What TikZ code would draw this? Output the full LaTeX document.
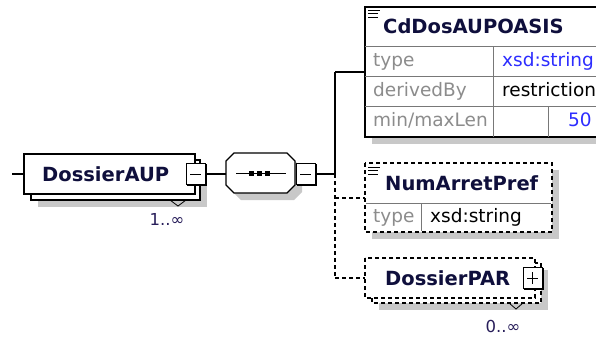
\documentclass[tikz,border=0pt]{standalone}
\usepackage{xcolor}
\usepackage{tikz}
\usepackage{fontspec}
\setmainfont{DejaVu Sans}

\definecolor{titlecol}{RGB}{15,15,60}
\definecolor{cardcol}{RGB}{40,30,90}
\definecolor{attrcol}{RGB}{140,140,140}
\definecolor{valblue}{RGB}{45,45,255}
\definecolor{shadecol}{RGB}{200,200,200}
\definecolor{rowline}{RGB}{120,120,120}

\tikzset{
	elbox/.style={draw=black,line width=1.2pt,fill=white},
	optbox/.style={elbox,dash pattern=on 4pt off 3pt},
	boxshadow/.style={fill=shadecol,draw=none},
	eltitle/.style={anchor=base west,inner sep=0pt,text=titlecol,font=\fontsize{19.5}{19.5}\selectfont\bfseries},
	attr/.style={anchor=base west,inner sep=0pt,text=attrcol,font=\fontsize{18.5}{18.5}\selectfont},
	val/.style={anchor=base west,inner sep=0pt,font=\fontsize{18.5}{18.5}\selectfont},
	card/.style={anchor=base,inner sep=0pt,text=cardcol,font=\fontsize{16.5}{16.5}\selectfont},
	conn/.style={line width=1.2pt},
	optconn/.style={conn,dash pattern=on 4pt off 3pt},
}

\begin{document}
\begin{tikzpicture}[x=1pt,y=-1pt]
	\newcommand\dsh{7}
	\newcommand\colx{335}
	\useasboundingbox (0,0) rectangle (596,338);

	% DossierAUP
	\fill[boxshadow] (31+\dsh,160+\dsh) rectangle (200+\dsh,200+\dsh);
	\draw[elbox] (31,160) rectangle (200,200);
	\draw[elbox] (24,154) rectangle (195,194);
	\node[eltitle] (aup) at (42,181) {DossierAUP};
	\draw[line width=0.8pt] (170,200) -- (178,206) -- (186,200);
	\node[card] (aupcard) at (167,225) {1..∞};
	\draw[fill=white,line width=1pt] (186,163) rectangle (205,184); % minus
	\draw[line width=2pt] (206,164) -- (206,185) -- (187,185);
	\draw[line width=1pt] (190,174) -- (201,174);
	\coordinate (aupin) at (12,174);
	\coordinate (aupleft) at (24,174);
	\coordinate (aupout) at (206,174);

	% sequence
	\fill[boxshadow] (226+\dsh,161+\dsh) -- (234+\dsh,153+\dsh) -- (287+\dsh,153+\dsh) -- (295+\dsh,161+\dsh) -- (295+\dsh,185+\dsh) -- (287+\dsh,193+\dsh) -- (234+\dsh,193+\dsh) -- (226+\dsh,185+\dsh) -- cycle;
	\draw[elbox] (226,161) -- (234,153) -- (287,153) -- (295,161) -- (295,185) -- (287,193) -- (234,193) -- (226,185) -- cycle;
	\draw[line width=1pt] (236,173) -- (286,173);
	\foreach \sx in {251,259,267}
		\fill (\sx-2.5,170.5) rectangle (\sx+2.5,175.5);
	\draw[fill=white,line width=1pt] (296,163) rectangle (315,184); % minus
	\draw[line width=2pt] (316,164) -- (316,185) -- (297,185);
	\draw[line width=1pt] (300,174) -- (311,174);
	\coordinate (seqin) at (226,174);
	\coordinate (seqout) at (316,174);
	\coordinate (fork) at (\colx,174);

	% CdDosAUPOASIS
	\fill[boxshadow] (365+\dsh,7+\dsh) rectangle (604+\dsh,137+\dsh);
	\draw[elbox] (365,7) rectangle (604,137);
	\draw[rowline,line width=1pt] (365,46) -- (604,46) (365,76) -- (604,76) (365,106) -- (604,106);
	\draw[rowline,line width=1pt] (493,46) -- (493,137) (548,106) -- (548,137);
	\draw[line width=0.9pt] (368,10) -- (380,10) (368,13.5) -- (378,13.5) (368,17) -- (378,17);
	\node[eltitle] (cddos) at (383,33) {CdDosAUPOASIS};
	\node[attr] (cdtype) at (373,66) {type};
	\node[attr] (cdder) at (373,96) {derivedBy};
	\node[attr] (cdlen) at (373,126) {min/maxLen};
	\node[val,text=valblue] (cdtypev) at (502,66) {xsd:string};
	\node[val] (cdderv) at (502,96) {restriction};
	\node[val,text=valblue] (cdlenv) at (568,126) {50};
	\coordinate (cdin) at (365,72);
	\coordinate (cdfork) at (\colx,72);

	% NumArretPref
	\fill[boxshadow] (365+\dsh,163+\dsh) rectangle (552+\dsh,232+\dsh);
	\draw[optbox] (365,163) rectangle (552,232);
	\draw[rowline,line width=1pt] (366,203) -- (551,203) (421,203) -- (421,231);
	\draw[line width=0.9pt] (368,167) -- (380,167) (368,170.5) -- (378,170.5) (368,174) -- (378,174);
	\node[eltitle] (numarret) at (385,190) {NumArretPref};
	\node[attr] (numtype) at (373,222) {type};
	\node[val] (numtypev) at (430,222) {xsd:string};
	\coordinate (numin) at (365,198);
	\coordinate (numfork) at (\colx,198);

	% DossierPAR
	\fill[boxshadow] (372+\dsh,263+\dsh) rectangle (541+\dsh,303+\dsh);
	\draw[optbox] (372,263) rectangle (541,303);
	\draw[optbox] (365,258) rectangle (535,298);
	\node[eltitle] (dospar) at (385,285) {DossierPAR};
	\draw[line width=0.8pt] (509,303) -- (516,309) -- (523,303);
	\node[card] (parcard) at (503,332) {0..∞};
	\draw[fill=white,line width=1pt] (523,267) rectangle (542,288); % plus
	\draw[line width=2pt] (543,268) -- (543,289) -- (524,289);
	\draw[line width=1pt] (527,278) -- (538,278) (532.5,272) -- (532.5,284);
	\coordinate (parin) at (365,278);
	\coordinate (parfork) at (\colx,278);

	% connectors
	\draw[conn] (aupin) -- (aupleft);
	\draw[conn] (aupout) -- (seqin);
	\draw[conn] (seqout) -- (fork);
	\draw[conn] (cdfork) -- (fork);
	\draw[conn] (cdfork) -- (cdin);
	\draw[optconn] (fork) -- (parfork);
	\draw[optconn] (numfork) -- (numin);
	\draw[optconn] (parfork) -- (parin);
\end{tikzpicture}
\end{document}
